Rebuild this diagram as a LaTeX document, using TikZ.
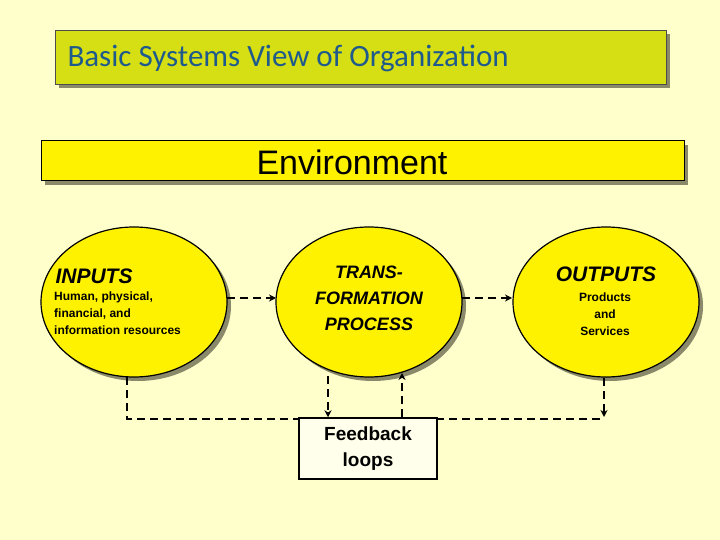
\documentclass[tikz,border=0pt]{standalone}
\usepackage{fontspec}
\setmainfont{Liberation Sans}
\newfontfamily\calib{Carlito}
\usetikzlibrary{arrows.meta}
\definecolor{bg}{HTML}{FFFFCC}
\definecolor{titlec}{HTML}{D6DE14}
\definecolor{titletext}{HTML}{1F5A8C}
\definecolor{shad}{HTML}{8A8A6A}
\tikzset{
  x=1pt,y=-1pt,
  dl/.style={dashed,dash pattern=on 8pt off 5pt,line width=2.6pt},
  tip/.style={-{Stealth[length=7pt,width=7pt]}},
}
\usetikzlibrary{shapes.geometric}
\begin{document}
\begin{tikzpicture}
\fill[bg] (0,0) rectangle (720,540);
\useasboundingbox (0,0) rectangle (720,540);
% title
\fill[shad] (59,34) rectangle (670,88);
\filldraw[fill=titlec,draw=gray!60!black,line width=0.8pt] (55,30) rectangle (666,84);
\node[anchor=west,text=titletext,font=\calib\fontsize{31}{34}\selectfont] (title) at (64,58) {Basic Systems View of Organization};
% environment
\fill[shad] (45,145) rectangle (688,185);
\filldraw[fill=yellow,draw=black,line width=1pt] (41,141) rectangle (684,181);
\node[font=\fontsize{34}{36}\selectfont] (env) at (352,162) {Environment};
% ellipses
\foreach \n/\cx in {in/134,tr/369,out/606}{
  \fill[shad] (\cx+4,306) ellipse [x radius=93,y radius=75];
  \filldraw[fill=yellow,draw=black,line width=1.2pt] (\cx,302) ellipse [x radius=93,y radius=75];
  \coordinate (\n) at (\cx,302);
}
\node[anchor=west,font=\bfseries\itshape\fontsize{21}{24}\selectfont] (inh) at (52,276) {INPUTS};
\node[anchor=north west,align=left,font=\bfseries\fontsize{12}{17}\selectfont,inner sep=0pt] (inb) at (54,292) {Human, physical,\\financial, and\\information resources};
\node[align=center,font=\bfseries\itshape\fontsize{18}{26}\selectfont] (trt) at (369,298) {TRANS-\\FORMATION\\PROCESS};
\node[font=\bfseries\itshape\fontsize{21}{24}\selectfont] (outh) at (606,274) {OUTPUTS};
\node[align=center,font=\bfseries\fontsize{12}{17}\selectfont] (outb) at (605,314) {Products\\and\\Services};
% connectors
\coordinate (a1) at (227,298); \coordinate (a2) at (276,298);
\coordinate (b1) at (462,298); \coordinate (b2) at (512,298);
\draw[dl,tip] (a1) -- (a2);
\draw[dl,tip] (b1) -- (b2);
\coordinate (p1) at (127,377); \coordinate (p2) at (127,419); \coordinate (p3) at (604,419); \coordinate (p4) at (604,378); \coordinate (p5) at (604,417);
\draw[dl] (p1) -- (p2) -- (p3);
\draw[dl,tip] (p4) -- (p5);
% feedback box
\node[draw=black,line width=1.5pt,fill=bg!40!white,minimum width=138pt,minimum height=61pt,align=center,font=\bfseries\fontsize{19}{26}\selectfont] (fb) at (368,448.5) {Feedback\\loops};
\draw[dl,tip] (tr.south -| 328,0) ++(0,74) -- (fb.north -| 328,0);
\coordinate (r2) at (402,373);
\draw[dl,tip] (fb.north -| 402,0) -- (r2);
\end{tikzpicture}
\end{document}
